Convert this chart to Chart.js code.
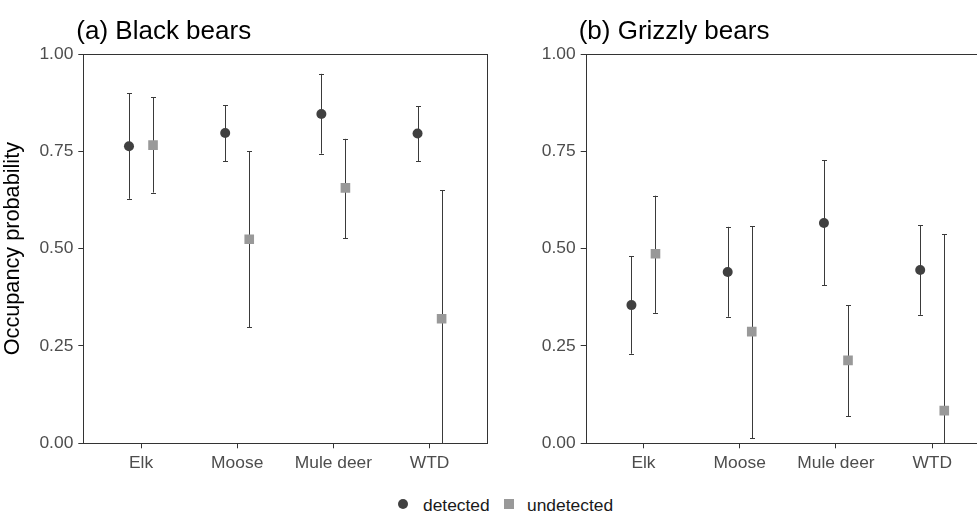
<!DOCTYPE html>
<html><head><meta charset="utf-8">
<script src="https://cdn.jsdelivr.net/npm/chart.js@4.4.0/dist/chart.umd.min.js"></script>
<style>
html,body{margin:0;padding:0;background:#fff;overflow:hidden;width:977px;height:512px;}
#wrap{position:relative;width:977px;height:512px;overflow:hidden;background:#fff;}
.cv{position:absolute;top:0;width:500px;height:480px;}
#ca{left:0;}
#cb{left:500px;}
.leg{position:absolute;top:495px;font-family:"Liberation Sans",Arial,sans-serif;font-size:17.4px;line-height:20px;color:#1a1a1a;white-space:nowrap;}
.dot{position:absolute;width:10px;height:10px;border-radius:50%;background:#404040;top:499px;}
.sq{position:absolute;width:10px;height:10px;background:#999999;top:499px;}
</style>
</head><body>
<div id="wrap">
<div class="cv" id="ca"><canvas id="chartA" width="500" height="480"></canvas></div>
<div class="cv" id="cb"><canvas id="chartB" width="500" height="480"></canvas></div>
<div class="dot" style="left:398px"></div>
<div class="leg" style="left:423px">detected</div>
<div class="sq" style="left:504px"></div>
<div class="leg" style="left:527px">undetected</div>
</div>
<script>
// ---- data ----
const categories = ["Elk", "Moose", "Mule deer", "WTD"];
const yTicks = [0, 0.25, 0.5, 0.75, 1];
const seriesNames = ["detected", "undetected"];

// (a) Black bears
const blackDetected     = [0.763, 0.797, 0.846, 0.796];
const blackDetectedLo   = [0.628, 0.725, 0.744, 0.725];
const blackDetectedHi   = [0.899, 0.868, 0.949, 0.866];
const blackUndetected   = [0.766, 0.524, 0.656, 0.320];
const blackUndetectedLo = [0.644, 0.298, 0.527, 0.000];
const blackUndetectedHi = [0.889, 0.750, 0.782, 0.650];

// (b) Grizzly bears
const grizDetected      = [0.355, 0.440, 0.566, 0.445];
const grizDetectedLo    = [0.230, 0.325, 0.406, 0.330];
const grizDetectedHi    = [0.481, 0.556, 0.727, 0.560];
const grizUndetected    = [0.487, 0.287, 0.213, 0.084];
const grizUndetectedLo  = [0.335, 0.013, 0.070, 0.000];
const grizUndetectedHi  = [0.636, 0.557, 0.354, 0.537];

const FONT = '"Liberation Sans", Arial, sans-serif';
const DODGE = 0.125;

function pts(mean, lo, hi, off){
  return mean.map((v,i)=>({x: i+1+off, y: v, lo: lo[i], hi: hi[i]}));
}

const errorBars = {
  id:'errorBars',
  beforeDatasetsDraw(chart){
    const {ctx, scales:{x,y}, chartArea:a} = chart;
    ctx.save();
    // frame
    ctx.strokeStyle = '#333333'; ctx.lineWidth = 1;
    ctx.strokeRect(Math.round(a.left)+0.5, Math.round(a.top)+0.5, Math.round(a.right-a.left), Math.round(a.bottom-a.top));
    ctx.strokeStyle = '#3a3a3a';
    chart.data.datasets.forEach(ds=>{
      ds.data.forEach(p=>{
        const px = Math.round(x.getPixelForValue(p.x))+0.5;
        const yl = y.getPixelForValue(p.lo), yh = y.getPixelForValue(p.hi);
        ctx.beginPath();
        ctx.moveTo(px, yl); ctx.lineTo(px, yh);
        ctx.moveTo(px-2.5, Math.round(yh)+0.5); ctx.lineTo(px+2.5, Math.round(yh)+0.5);
        ctx.moveTo(px-2.5, Math.round(yl)+0.5); ctx.lineTo(px+2.5, Math.round(yl)+0.5);
        ctx.stroke();
      });
    });
    ctx.restore();
  }
};

const titlePlugin = {
  id:'panelTitle',
  afterDraw(chart, args, opts){
    const {ctx, chartArea:a} = chart;
    ctx.save();
    ctx.font = '26px ' + FONT;
    ctx.fillStyle = '#000';
    ctx.textBaseline = 'alphabetic';
    ctx.textAlign = 'left';
    ctx.fillText(opts.text, a.left - 7, 39);
    ctx.restore();
  }
};

function makeChart(id, title, det, undet, yWidth, padRight, showYTitle){
  return new Chart(document.getElementById(id), {
    type:'scatter',
    data:{datasets:[
      {label: seriesNames[0], data: det, pointStyle:'circle', pointRadius:5, pointHoverRadius:5,
       backgroundColor:'#404040', borderWidth:0},
      {label: seriesNames[1], data: undet, pointStyle:'rect', pointRadius:6.8, pointHoverRadius:6.8,
       backgroundColor:'#999999', borderWidth:0}
    ]},
    options:{
      responsive:false, animation:false, events:[],
      layout:{padding:{left:0, top:54, right:padRight, bottom:6.7}},
      plugins:{legend:{display:false}, tooltip:{enabled:false}, panelTitle:{text:title}},
      scales:{
        x:{type:'linear', min:0.4, max:4.6,
           afterBuildTicks(s){ s.ticks = categories.map((c,i)=>({value:i+1})); },
           afterFit(s){ s.height = 30; },
           ticks:{autoSkip:false, maxRotation:0, padding:4, color:'#4d4d4d', font:{family:FONT, size:17.4},
                  callback:(v)=>categories[Math.round(v)-1] || ''},
           grid:{drawOnChartArea:false, drawTicks:true, tickLength:5, tickColor:'#333333', tickWidth:1},
           border:{display:false}},
        y:{type:'linear', min:0, max:1,
           afterBuildTicks(s){ s.ticks = yTicks.map(v=>({value:v})); },
           afterFit(s){ s.width = yWidth; },
           ticks:{padding:5, color:'#4d4d4d', font:{family:FONT, size:17.4}, callback:(v)=>Number(v).toFixed(2)},
           grid:{drawOnChartArea:false, drawTicks:true, tickLength:5, tickColor:'#333333', tickWidth:1},
           border:{display:false},
           title:{display:showYTitle, text:'Occupancy probability', color:'#000', padding:{top:0,bottom:0},
                  font:{family:FONT, size:21.7}}}
      }
    },
    plugins:[errorBars, titlePlugin]
  });
}

makeChart('chartA', '(a) Black bears',
  pts(blackDetected, blackDetectedLo, blackDetectedHi, -DODGE),
  pts(blackUndetected, blackUndetectedLo, blackUndetectedHi, DODGE),
  83.3, 12.7, true);
makeChart('chartB', '(b) Grizzly bears',
  pts(grizDetected, grizDetectedLo, grizDetectedHi, -DODGE),
  pts(grizUndetected, grizUndetectedLo, grizUndetectedHi, DODGE),
  85.7, 10, false);
</script>
</body></html>
